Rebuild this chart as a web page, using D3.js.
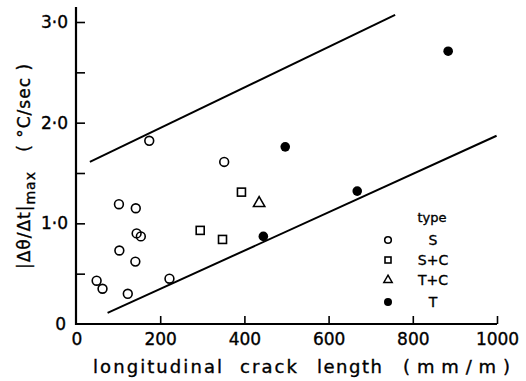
<!DOCTYPE html>
<html>
<head>
<meta charset="utf-8">
<script src="https://cdn.jsdelivr.net/npm/d3@7"></script>
<style>
  body { margin: 0; background: #fff; }
  text { font-family: "DejaVu Sans", sans-serif; fill: #000; stroke: #000; stroke-width: 0.35px; }
</style>
</head>
<body>
<svg id="chart" width="526" height="381"></svg>
<script>
// data: crack length (mm/m) vs |dθ/dt|max (°C/sec)
var typeS = [[174, 1.82], [352, 1.61], [102, 1.19], [142, 1.15], [144, 0.90], [154, 0.87],
             [103, 0.73], [141, 0.62], [49, 0.43], [63, 0.35], [123, 0.30], [222, 0.45]];
var typeSC = [[295, 0.93], [348, 0.84], [393, 1.31]];
var typeTC = [[435, 1.20]];
var typeT = [[445, 0.87], [497, 1.76], [668, 1.32], [884, 2.71]];

var upperLine = [[33, 1.61], [758, 3.07]];
var lowerLine = [[75, 0.11], [999, 1.87]];

var xTicks = [200, 400, 600, 800, 1000];
var yTicks = [1, 2, 3];
var yMinorTicks = [0.5, 1.5, 2.5];
var legendItems = ["S", "S+C", "T+C", "T"];

var svg = d3.select("#chart");

var x = d3.scaleLinear().domain([0, 1000]).range([76, 497]);
var y = d3.scaleLinear().domain([0, 3]).range([324, 22]);

var fmt = function(d) { return d.toFixed(1).replace(".", "\u00b7"); };

/* axes */
var yAxis = svg.append("g")
	.attr("transform", "translate(" + x(0) + ",0)")
	.call(d3.axisLeft(y).tickValues(yTicks.concat(yMinorTicks))
		.tickSize(0).tickPadding(8)
		.tickFormat(function(d) { return yMinorTicks.indexOf(d) >= 0 ? "" : fmt(d); }));

var xAxis = svg.append("g")
	.attr("transform", "translate(0," + y(0) + ")")
	.call(d3.axisBottom(x).tickValues(xTicks)
		.tickSize(0).tickPadding(9)
		.tickFormat(function(d) { return d; }));

[yAxis, xAxis].forEach(function(g) {
	g.select(".domain").remove();
	g.selectAll(".tick line").remove();
	g.selectAll(".tick text").attr("font-size", "17px").attr("fill", "#000");
});

// inward tick marks
yAxis.selectAll(".tick").append("path")
	.attr("d", "M0,0H9")
	.attr("fill", "none").attr("stroke", "#000").attr("stroke-width", 1.6);
xAxis.selectAll(".tick").append("path")
	.attr("d", "M0,0V-8")
	.attr("fill", "none").attr("stroke", "#000").attr("stroke-width", 1.6);

// axis lines
svg.append("path")
	.attr("d", "M" + x(0) + "," + y(3.15) + "V" + y(0) + "H" + x(1000))
	.attr("fill", "none")
	.attr("stroke", "#000")
	.attr("stroke-width", 2.2);

// corner zeros
svg.append("text").attr("x", 66).attr("y", y(0) + 6)
	.attr("text-anchor", "end").attr("font-size", "17px").text("0");
svg.append("text").attr("x", x(0) + 1).attr("y", y(0) + 21)
	.attr("text-anchor", "middle").attr("font-size", "17px").text("0");

/* boundary lines */
var boundary = d3.line()
	.x(function(d) { return x(d[0]); })
	.y(function(d) { return y(d[1]); });

[upperLine, lowerLine].forEach(function(l) {
	svg.append("path")
		.attr("d", boundary(l))
		.attr("fill", "none")
		.attr("stroke", "#000")
		.attr("stroke-width", 2);
});

/* points */
var pts = svg.append("g");

pts.selectAll("circle.s")
	.data(typeS)
	.enter()
	.append("circle")
	.attr("class", "s")
	.attr("cx", function(d) { return x(d[0]); })
	.attr("cy", function(d) { return y(d[1]); })
	.attr("r", 4.4)
	.attr("fill", "none")
	.attr("stroke", "#000")
	.attr("stroke-width", 1.6);

pts.selectAll("rect.sc")
	.data(typeSC)
	.enter()
	.append("rect")
	.attr("class", "sc")
	.attr("x", function(d) { return x(d[0]) - 4; })
	.attr("y", function(d) { return y(d[1]) - 4; })
	.attr("width", 8)
	.attr("height", 8)
	.attr("fill", "none")
	.attr("stroke", "#000")
	.attr("stroke-width", 1.6);

var tri = d3.symbol().type(d3.symbolTriangle).size(55);
pts.selectAll("path.tc")
	.data(typeTC)
	.enter()
	.append("path")
	.attr("class", "tc")
	.attr("d", tri)
	.attr("transform", function(d) { return "translate(" + x(d[0]) + "," + y(d[1]) + ")"; })
	.attr("fill", "none")
	.attr("stroke", "#000")
	.attr("stroke-width", 1.6);

pts.selectAll("circle.t")
	.data(typeT)
	.enter()
	.append("circle")
	.attr("class", "t")
	.attr("cx", function(d) { return x(d[0]); })
	.attr("cy", function(d) { return y(d[1]); })
	.attr("r", 4.8)
	.attr("fill", "#000");

/* legend */
var lg = svg.append("g");
lg.append("text").attr("x", 432).attr("y", 222)
	.attr("text-anchor", "middle").attr("font-size", "13px").text("type");

var rowY = [240, 260, 280, 302];
legendItems.forEach(function(name, i) {
	var cy = rowY[i];
	if (i === 0) {
		lg.append("circle").attr("cx", 388).attr("cy", cy).attr("r", 3.3)
			.attr("fill", "none").attr("stroke", "#000").attr("stroke-width", 1.6);
	} else if (i === 1) {
		lg.append("rect").attr("x", 385).attr("y", cy - 3).attr("width", 6).attr("height", 6)
			.attr("fill", "none").attr("stroke", "#000").attr("stroke-width", 1.6);
	} else if (i === 2) {
		lg.append("path").attr("d", d3.symbol().type(d3.symbolTriangle).size(30))
			.attr("transform", "translate(388," + cy + ")")
			.attr("fill", "none").attr("stroke", "#000").attr("stroke-width", 1.5);
	} else {
		lg.append("circle").attr("cx", 388).attr("cy", cy).attr("r", 4)
			.attr("fill", "#000");
	}
	lg.append("text").attr("x", 433).attr("y", cy + 5)
		.attr("text-anchor", "middle").attr("font-size", "14px").text(name);
});

/* axis titles: words spread out as in the original lettering */
var xWords = [["longitudinal", 93, 129], ["crack", 240, 57], ["length", 317, 65], ["(mm/m)", 403, 107]];
xWords.forEach(function(w) {
	svg.append("text")
		.attr("x", w[1]).attr("y", 373)
		.attr("font-size", "18px")
		.attr("textLength", w[2])
		.attr("lengthAdjust", "spacing")
		.text(w[0]);
});

var yt = svg.append("text")
	.attr("transform", "translate(30,166) rotate(-90)")
	.attr("text-anchor", "middle")
	.attr("font-size", "17px")
	.attr("letter-spacing", "1px");
yt.append("tspan").text("|\u0394\u03b8/\u0394t|");
yt.append("tspan").attr("font-size", "14px").attr("dy", 5).text("max");
yt.append("tspan").attr("dy", -5).text("\u00a0\u00a0\u00a0( \u00b0C/sec )");
</script>
</body>
</html>
